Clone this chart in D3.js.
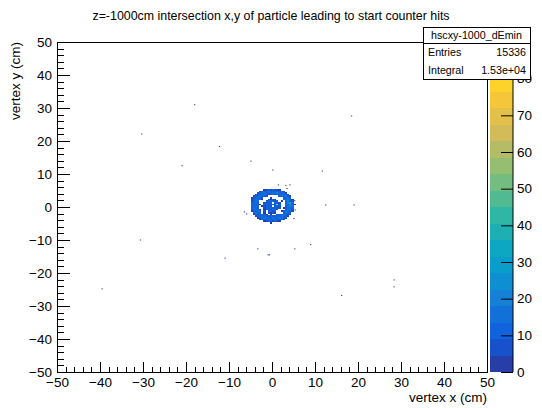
<!DOCTYPE html>
<html>
<head>
<meta charset="utf-8">
<script src="https://cdn.jsdelivr.net/npm/d3@7"></script>
<style>
body { margin: 0; background: #fff; }
text { font-family: "Liberation Sans", Arial, Helvetica, sans-serif; fill: #000; }
</style>
</head>
<body>
<div id="chart"></div>
<script>
// ---- data ----
const chartTitle = "z=-1000cm intersection x,y of particle leading to start counter hits";
const xTitle = "vertex x (cm)";
const yTitle = "vertex y (cm)";
const xRange = [-50, 50];
const yRange = [-50, 50];
const zMax = 90;
const xTicks = [-50, -40, -30, -20, -10, 0, 10, 20, 30, 40, 50];
const yTicks = [-50, -40, -30, -20, -10, 0, 10, 20, 30, 40, 50];
const zTicks = [0, 10, 20, 30, 40, 50, 60, 70, 80];

const statsName = "hscxy-1000_dEmin";
const statsLabels = ["Entries", "Integral"];
const statsValues = ["15336", "1.53e+04"];

// the ring of hits around the beam line, one char per 0.5 cm cell
const ringLeft = -5.5, ringTop = 6.0, ringStep = 0.5;
const levelKeys = "123456789";
const levelCounts = [2, 6, 10, 12, 15, 22, 28, 36, 55];
const ringRows = [
    "......................",
    ".......12323221.......",
    ".....234354334432.....",
    "....23454335464431....",
    "...2443532232435442...",
    "..2345432.....354532..",
    ".134542...1.....4353..",
    ".235431..2132...45541.",
    ".2454...233423.1.5642.",
    ".3454..2343.342..4675.",
    ".43531.33243493..54641",
    ".3444.12342.332..4565.",
    ".4543..23333423.14553.",
    ".24532.1342332...4552.",
    ".13454.2.3323..145542.",
    "..3543.1.2121...4543..",
    "..1345432.1..2445432..",
    "...2445343334345431...",
    "....13454435345432....",
    ".....134454354431.....",
    ".......12332321.......",
    "..........1..........."
];

// single scattered hits
const speckX = [-18.0, 18.5, -30.3, -12.2, -4.9, -20.9, 0.2, 11.7, 12.5, 19.1, -30.6, 9.0, -3.3, 5.3, -0.9, -0.6, -10.9, -39.5, 16.2, 28.4, 28.4, 1.5, 3.2, 4.2, 3.5, 5.3, 5.4, 5.1, -6.4, -5.9];
const speckY = [31.0, 27.6, 22.1, 18.3, 13.9, 12.5, 11.2, 10.9, 0.6, 0.6, -10.0, -11.4, -12.7, -12.7, -14.5, -14.5, -15.5, -24.8, -26.8, -22.1, -24.2, 6.7, 6.5, 6.7, 5.6, 1.9, -0.9, -3.5, -1.5, -2.1];
const speckN = [1, 1, 1, 1, 1, 1, 1, 1, 1, 1, 1, 1, 1, 1, 2, 1, 1, 1, 1, 1, 1, 1, 1, 1, 1, 1, 1, 1, 1, 1];

// ---- layout ----
const margin = {left: 57, top: 42, right: 55, bottom: 36},
    width = 542 - margin.left - margin.right,
    height = 408 - margin.top - margin.bottom;

const svg = d3.select("#chart").append("svg")
        .attr("width", 542)
        .attr("height", 408)
    .append("g")
        .attr("transform", `translate(${margin.left}, ${margin.top})`);

const xScale = d3.scaleLinear().domain(xRange).range([0, width]);
const yScale = d3.scaleLinear().domain(yRange).range([height, 0]);
const zScale = d3.scaleLinear().domain([0, zMax]).range([height, 0]);

// ROOT kBird palette, 20 contour levels
const birdStops = [0, 0.125, 0.25, 0.375, 0.5, 0.625, 0.75, 0.875, 1];
const birdR = [0.2082, 0.0592, 0.0780, 0.0232, 0.1802, 0.5301, 0.8186, 0.9956, 0.9764];
const birdG = [0.1664, 0.3599, 0.5041, 0.6419, 0.7178, 0.7492, 0.7328, 0.7862, 0.9832];
const birdB = [0.5293, 0.8684, 0.8385, 0.7914, 0.6425, 0.4662, 0.3499, 0.1968, 0.0539];
const bird = d3.scaleLinear()
    .domain(birdStops)
    .range(birdStops.map((s, i) => d3.rgb(birdR[i] * 255, birdG[i] * 255, birdB[i] * 255).toString()));
const nLevels = 20;
function levelColor(band) {
    const idx = Math.min(254, Math.floor((band + 0.99) * 255 / nLevels));
    return bird(idx / 254);
}
function binColor(n) {
    return levelColor(Math.min(nLevels - 1, Math.floor(n / zMax * nLevels)));
}

// ---- bins ----
const ringCells = [];
ringRows.forEach((row, j) => row.split("").forEach((ch, i) => {
    const k = levelKeys.indexOf(ch);
    if (k >= 0) ringCells.push({x: ringLeft + i * ringStep, y: ringTop - j * ringStep, n: levelCounts[k]});
}));

svg.append("g").selectAll("rect")
    .data(ringCells)
    .enter().append("rect")
    .attr("x", d => xScale(d.x))
    .attr("y", d => yScale(d.y))
    .attr("width", xScale(ringStep) - xScale(0))
    .attr("height", yScale(0) - yScale(ringStep))
    .attr("shape-rendering", "crispEdges")
    .attr("fill", d => binColor(d.n));

const specW = 0.3;  // drawn size of a lone bin
svg.append("g").selectAll("rect")
    .data(speckX.map((x, i) => ({x: x, y: speckY[i], n: speckN[i]})))
    .enter().append("rect")
    .attr("x", d => xScale(d.x - specW / 2))
    .attr("y", d => yScale(d.y + specW / 2))
    .attr("width", xScale(specW) - xScale(0))
    .attr("height", yScale(0) - yScale(specW))
    .attr("fill", d => binColor(d.n));

// ---- axes ----
const minorX = d3.range(xRange[0], xRange[1] + 1, 2);
const minorY = d3.range(yRange[0], yRange[1] + 1, 2);

svg.append("g")
    .attr("transform", `translate(0, ${height})`)
    .call(d3.axisBottom(xScale).tickValues(minorX).tickSize(-5).tickFormat(""))
    .call(g => g.select(".domain").remove());
svg.append("g")
    .attr("class", "xaxis")
    .attr("transform", `translate(0, ${height})`)
    .call(d3.axisBottom(xScale).tickValues(xTicks).tickSize(-10).tickPadding(5))
    .call(g => g.select(".domain").remove());

svg.append("g")
    .call(d3.axisLeft(yScale).tickValues(minorY).tickSize(-6.5).tickFormat(""))
    .call(g => g.select(".domain").remove());
svg.append("g")
    .attr("class", "yaxis")
    .call(d3.axisLeft(yScale).tickValues(yTicks).tickSize(-13).tickPadding(5))
    .call(g => g.select(".domain").remove());

svg.selectAll(".tick line").attr("stroke", "#000").attr("shape-rendering", "crispEdges");
svg.selectAll(".xaxis text, .yaxis text")
    .attr("font-size", "13.5px")
    .attr("font-family", "'Liberation Sans', Arial, sans-serif")
    .attr("fill", "#000");

svg.append("rect")
    .attr("x", 0).attr("y", 0)
    .attr("width", width).attr("height", height)
    .attr("fill", "none")
    .attr("stroke", "#000")
    .attr("shape-rendering", "crispEdges");

// ---- colour bar ----
const barX = width + 3, barW = 23;
const bar = svg.append("g").attr("transform", `translate(${barX}, 0)`);
bar.selectAll("rect")
    .data(d3.range(nLevels))
    .enter().append("rect")
    .attr("x", 0)
    .attr("y", i => zScale((i + 1) * zMax / nLevels))
    .attr("width", barW)
    .attr("height", zScale(0) - zScale(zMax / nLevels))
    .attr("shape-rendering", "crispEdges")
    .attr("fill", i => levelColor(i));
bar.append("g")
    .attr("transform", `translate(${barW}, 0)`)
    .call(d3.axisRight(zScale).tickValues(zTicks).tickSize(-12).tickPadding(4))
    .call(g => g.select(".domain").attr("stroke", "#000").attr("d", `M0,0V${height}`))
    .call(g => g.selectAll("line").attr("stroke", "#000"))
    .call(g => g.selectAll("text")
        .attr("font-size", "13.5px")
        .attr("font-family", "'Liberation Sans', Arial, sans-serif")
        .attr("fill", "#000"));

// ---- titles ----
svg.append("text")
    .attr("x", 271 - margin.left)
    .attr("y", 19.5 - margin.top)
    .attr("text-anchor", "middle")
    .attr("font-size", "12.4px")
    .text(chartTitle);

svg.append("text")
    .attr("x", width)
    .attr("y", height + 30)
    .attr("text-anchor", "end")
    .attr("font-size", "13.5px")
    .text(xTitle);

svg.append("text")
    .attr("transform", `translate(${20 - margin.left}, 0) rotate(-90)`)
    .attr("text-anchor", "end")
    .attr("font-size", "13.5px")
    .text(yTitle);

// ---- stats box ----
const stats = svg.append("g").attr("transform", `translate(${423 - margin.left}, ${27 - margin.top})`);
const boxW = 107, boxH = 52, rowTop = 16;
stats.append("rect")
    .attr("width", boxW).attr("height", boxH)
    .attr("fill", "#fff").attr("stroke", "#000")
    .attr("shape-rendering", "crispEdges");
stats.append("line")
    .attr("x1", 0).attr("x2", boxW)
    .attr("y1", rowTop).attr("y2", rowTop)
    .attr("stroke", "#000")
    .attr("shape-rendering", "crispEdges");
stats.append("text")
    .attr("x", boxW / 2).attr("y", 12)
    .attr("text-anchor", "middle")
    .attr("font-size", "10.7px")
    .text(statsName);
statsLabels.forEach((lab, i) => {
    const yy = rowTop + (boxH - rowTop) / 4 * (2 * i + 1) + 4;
    stats.append("text").attr("x", 5).attr("y", yy)
        .attr("font-size", "10.7px").text(lab);
    stats.append("text").attr("x", boxW - 4).attr("y", yy)
        .attr("text-anchor", "end")
        .attr("font-size", "10.7px").text(statsValues[i]);
});
</script>
</body>
</html>
